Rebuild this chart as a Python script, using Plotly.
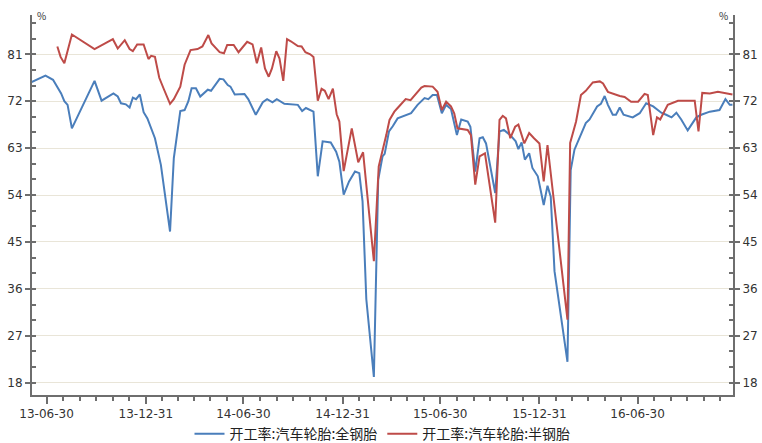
import plotly.graph_objects as go

# 开工率:汽车轮胎:全钢胎 (blue)
all_steel_dates = [
    "2013-06-01", "2013-06-28", "2013-07-12", "2013-07-21", "2013-07-27", "2013-08-02", "2013-08-08",
    "2013-08-16", "2013-09-27", "2013-10-10", "2013-11-01", "2013-11-09", "2013-11-15", "2013-11-24",
    "2013-12-01", "2013-12-07", "2013-12-13", "2013-12-20", "2013-12-27", "2014-01-03", "2014-01-13",
    "2014-01-17", "2014-01-28", "2014-02-14", "2014-02-21", "2014-03-05", "2014-03-13", "2014-03-20",
    "2014-03-26", "2014-04-03", "2014-04-11", "2014-04-25", "2014-05-01", "2014-05-17", "2014-05-24",
    "2014-06-01", "2014-06-06", "2014-06-14", "2014-07-02", "2014-07-09", "2014-07-23", "2014-08-05",
    "2014-08-13", "2014-08-23", "2014-08-31", "2014-09-14", "2014-10-09", "2014-10-17", "2014-10-24",
    "2014-11-07", "2014-11-15", "2014-11-24", "2014-12-09", "2014-12-19", "2014-12-25", "2015-01-02",
    "2015-01-12", "2015-01-23", "2015-01-31", "2015-02-06", "2015-02-13", "2015-02-27", "2015-03-07",
    "2015-03-15", "2015-03-19", "2015-03-27", "2015-04-03", "2015-04-12", "2015-05-07", "2015-05-19",
    "2015-06-01", "2015-06-08", "2015-06-16", "2015-06-24", "2015-07-03", "2015-07-11", "2015-07-20",
    "2015-07-31", "2015-08-08", "2015-08-20", "2015-08-25", "2015-09-03", "2015-09-11", "2015-09-17",
    "2015-09-23", "2015-10-10", "2015-10-18", "2015-10-26", "2015-11-07", "2015-11-17", "2015-11-22",
    "2015-11-28", "2015-12-04", "2015-12-12", "2015-12-18", "2015-12-28", "2016-01-08", "2016-01-15",
    "2016-01-21", "2016-01-28", "2016-02-21", "2016-02-27", "2016-03-05", "2016-03-14", "2016-03-20",
    "2016-03-26", "2016-04-02", "2016-04-16", "2016-04-23", "2016-04-30", "2016-05-06", "2016-05-15",
    "2016-05-21", "2016-05-28", "2016-06-04", "2016-06-21", "2016-07-04", "2016-07-16", "2016-07-29",
    "2016-08-13", "2016-08-22", "2016-09-01", "2016-09-10", "2016-09-19", "2016-10-01", "2016-10-17",
    "2016-10-26", "2016-11-11", "2016-11-29", "2016-12-10", "2016-12-18", "2016-12-23",
]
all_steel_values = [
    75.6, 76.9, 76.1, 74.5, 73.5, 72.0, 71.3,
    66.8, 75.9, 72.1, 73.5, 72.9, 71.6, 71.4,
    70.8, 72.7, 72.4, 73.3, 69.9, 68.7, 66.2,
    64.9, 59.8, 47.0, 61.1, 70.1, 70.3, 72.0,
    74.5, 74.5, 72.9, 74.2, 74.0, 76.3, 76.2,
    75.1, 74.8, 73.3, 73.4, 72.4, 69.4, 71.8,
    72.4, 71.8, 72.4, 71.5, 71.3, 70.1, 70.7,
    70.0, 57.6, 64.3, 64.1, 62.3, 60.4, 54.1,
    56.6, 58.5, 58.2, 52.8, 34.0, 19.1, 56.9,
    61.4, 61.9, 66.2, 67.2, 68.7, 69.7, 71.3,
    72.6, 72.4, 73.2, 73.2, 69.7, 71.3, 70.5,
    65.5, 68.5, 68.1, 67.1, 58.5, 64.9, 65.1,
    63.9, 54.4, 66.2, 66.5, 65.5, 64.3, 62.8,
    64.1, 60.8, 62.0, 59.2, 57.6, 52.1, 55.8,
    53.7, 39.4, 22.0, 58.8, 62.7, 64.9, 66.2,
    67.8, 68.5, 71.0, 71.5, 73.0, 71.3, 69.4,
    69.4, 70.8, 69.4, 68.9, 69.7, 71.6, 71.0,
    69.8, 69.4, 68.9, 69.8, 68.5, 66.4, 68.9,
    69.4, 70.0, 70.3, 72.4, 71.3, 71.3,
]

# 开工率:汽车轮胎:半钢胎 (red)
semi_steel_dates = [
    "2013-07-20", "2013-07-26", "2013-08-02", "2013-08-16", "2013-09-27", "2013-10-12", "2013-10-31",
    "2013-11-09", "2013-11-22", "2013-12-01", "2013-12-07", "2013-12-15", "2013-12-27", "2014-01-05",
    "2014-01-10", "2014-01-17", "2014-01-25", "2014-02-03", "2014-02-14", "2014-02-21", "2014-03-05",
    "2014-03-13", "2014-03-24", "2014-04-06", "2014-04-15", "2014-04-26", "2014-05-02", "2014-05-17",
    "2014-05-25", "2014-05-31", "2014-06-12", "2014-06-21", "2014-07-07", "2014-07-17", "2014-07-25",
    "2014-08-02", "2014-08-09", "2014-08-16", "2014-08-22", "2014-08-30", "2014-09-05", "2014-09-12",
    "2014-09-19", "2014-09-26", "2014-10-09", "2014-10-16", "2014-10-23", "2014-11-01", "2014-11-07",
    "2014-11-15", "2014-11-22", "2014-11-28", "2014-12-05", "2014-12-13", "2014-12-20", "2014-12-25",
    "2015-01-02", "2015-01-17", "2015-01-29", "2015-02-07", "2015-02-27", "2015-03-08", "2015-03-16",
    "2015-03-22", "2015-03-28", "2015-04-06", "2015-04-12", "2015-04-21", "2015-04-27", "2015-05-06",
    "2015-05-16", "2015-05-26", "2015-06-01", "2015-06-10", "2015-06-16", "2015-06-25", "2015-07-03",
    "2015-07-11", "2015-07-20", "2015-07-26", "2015-08-01", "2015-08-20", "2015-08-26", "2015-09-03",
    "2015-09-11", "2015-09-21", "2015-10-10", "2015-10-18", "2015-10-24", "2015-10-30", "2015-11-07",
    "2015-11-16", "2015-11-22", "2015-12-03", "2015-12-12", "2015-12-21", "2015-12-31", "2016-01-08",
    "2016-01-15", "2016-02-21", "2016-02-26", "2016-03-08", "2016-03-17", "2016-03-26", "2016-04-02",
    "2016-04-08", "2016-04-21", "2016-04-27", "2016-05-06", "2016-05-18", "2016-05-28", "2016-06-06",
    "2016-06-18", "2016-07-01", "2016-07-13", "2016-07-19", "2016-07-29", "2016-08-05", "2016-08-11",
    "2016-08-25", "2016-09-13", "2016-10-14", "2016-10-21", "2016-10-28", "2016-11-11", "2016-11-26",
    "2016-12-10", "2016-12-23",
]
semi_steel_values = [
    82.5, 80.5, 79.3, 84.8, 82.0, 82.9, 83.9,
    82.1, 83.7, 82.0, 81.6, 82.9, 82.9, 80.1,
    80.7, 80.5, 76.5, 74.2, 71.5, 72.4, 74.8,
    79.0, 81.8, 82.0, 82.5, 84.7, 83.1, 81.4,
    81.2, 82.8, 82.8, 81.4, 83.4, 82.9, 79.3,
    82.3, 78.3, 76.7, 78.3, 81.6, 80.2, 75.9,
    83.9, 83.5, 82.6, 82.5, 81.4, 81.0, 80.5,
    72.1, 74.4, 74.0, 72.4, 74.4, 69.5, 68.1,
    58.6, 66.8, 60.3, 62.2, 41.3, 59.5, 62.7,
    65.5, 68.4, 70.0, 70.7, 71.6, 72.4, 72.2,
    73.5, 74.6, 74.9, 74.8, 74.8, 73.8, 70.3,
    71.9, 71.0, 69.7, 66.8, 66.5, 65.5, 56.0,
    61.4, 62.0, 48.7, 68.4, 69.2, 68.7, 64.9,
    67.1, 67.5, 63.9, 65.9, 64.9, 63.9, 56.6,
    63.6, 30.1, 64.0, 68.1, 73.2, 74.0, 74.8,
    75.6, 75.8, 75.4, 73.8, 73.3, 73.0, 72.8,
    71.9, 71.9, 73.4, 73.2, 65.5, 68.9, 68.5,
    71.3, 72.1, 72.1, 66.2, 73.6, 73.5, 73.8,
    73.5, 73.3,
]

series_names = ["开工率:汽车轮胎:全钢胎", "开工率:汽车轮胎:半钢胎"]

quarter_ticks = [
    "2013-06-30", "2013-09-30", "2013-12-31", "2014-03-31", "2014-06-30", "2014-09-30",
    "2014-12-31", "2015-03-31", "2015-06-30", "2015-09-30", "2015-12-31", "2016-03-31",
    "2016-06-30", "2016-09-30",
]
quarter_labels = [
    "13-06-30", "", "13-12-31", "", "14-06-30", "", "14-12-31", "", "15-06-30", "",
    "15-12-31", "", "16-06-30", "",
]
month_ticks = [
    "2013-06-30", "2013-07-31", "2013-08-31", "2013-09-30", "2013-10-31", "2013-11-30", "2013-12-31",
    "2014-01-31", "2014-02-28", "2014-03-31", "2014-04-30", "2014-05-31", "2014-06-30", "2014-07-31",
    "2014-08-31", "2014-09-30", "2014-10-31", "2014-11-30", "2014-12-31", "2015-01-31", "2015-02-28",
    "2015-03-31", "2015-04-30", "2015-05-31", "2015-06-30", "2015-07-31", "2015-08-31", "2015-09-30",
    "2015-10-31", "2015-11-30", "2015-12-31", "2016-01-31", "2016-02-29", "2016-03-31", "2016-04-30",
    "2016-05-31", "2016-06-30", "2016-07-31", "2016-08-31", "2016-09-30", "2016-10-31", "2016-11-30",
]

BLUE = "#4a7ebb"
RED = "#be4b48"
AXIS = "#6e6e6e"
GRID = "#e9e5d8"
FONT = "Noto Sans CJK SC"
TICKFONT = "DejaVu Sans"
yrange = [15.64, 88.54]

fig = go.Figure()
fig.add_trace(go.Scatter(x=all_steel_dates, y=all_steel_values, mode="lines",
                         name=series_names[0], line=dict(color=BLUE, width=2), yaxis="y"))
fig.add_trace(go.Scatter(x=semi_steel_dates, y=semi_steel_values, mode="lines",
                         name=series_names[1], line=dict(color=RED, width=2), yaxis="y2"))

yaxis_common = dict(
    range=yrange, tickmode="linear", tick0=18, dtick=9,
    ticks="outside", ticklen=5, tickcolor=AXIS, tickwidth=1.5,
    showline=True, linecolor=AXIS, linewidth=2, automargin=False,
    tickfont=dict(family=TICKFONT, size=12, color="#333333"),
    minor=dict(tickmode="linear", tick0=18, dtick=3, ticks="inside", ticklen=4,
               tickcolor=AXIS, tickwidth=1.5, showgrid=False),
    zeroline=False, fixedrange=True,
)

fig.update_layout(
    width=762, height=443, autosize=False,
    margin=dict(l=32, r=29, t=15, b=48, autoexpand=False),
    paper_bgcolor="white", plot_bgcolor="white",
    showlegend=True,
    legend=dict(orientation="h", x=0.5, xanchor="center", y=-0.103, yanchor="middle",
                font=dict(family=FONT, size=14, color="#222222"), bgcolor="rgba(0,0,0,0)"),
    xaxis=dict(
        type="date", range=["2013-06-03", "2016-12-24"], automargin=False,
        tickmode="array", tickvals=quarter_ticks, ticktext=quarter_labels,
        ticks="outside", ticklen=7, tickcolor=AXIS, tickwidth=1.5, tickangle=0,
        showline=True, linecolor=AXIS, linewidth=2, showgrid=False, zeroline=False,
        tickfont=dict(family=TICKFONT, size=12, color="#333333"),
        minor=dict(tickmode="array", tickvals=month_ticks, ticks="outside", ticklen=4,
                   tickcolor=AXIS, tickwidth=1.5, showgrid=False),
    ),
    yaxis=dict(side="left", showgrid=True, gridcolor=GRID, gridwidth=1, **yaxis_common),
    yaxis2=dict(side="right", overlaying="y", showgrid=False, **yaxis_common),
    annotations=[
        dict(text="%", xref="paper", yref="paper", x=0.0, y=1.0, xanchor="left", yanchor="middle",
             xshift=3, showarrow=False, font=dict(family=FONT, size=10, color="#333333")),
        dict(text="%", xref="paper", yref="paper", x=1.0, y=1.0, xanchor="right", yanchor="middle",
             xshift=-3, showarrow=False, font=dict(family=FONT, size=10, color="#333333")),
    ],
)

fig.write_html("out.html", config={"displayModeBar": False},
               post_script="document.body.style.margin='0px';document.body.style.overflow='hidden';")
